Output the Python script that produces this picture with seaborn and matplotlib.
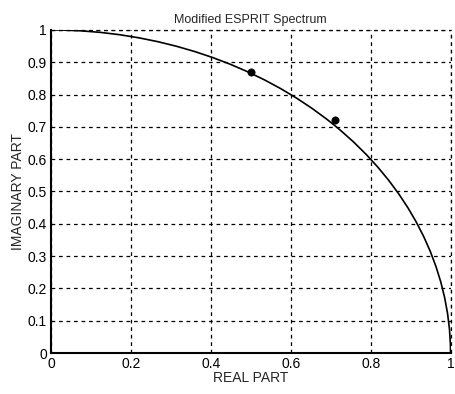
import numpy as np
import matplotlib
matplotlib.use("Agg")
import matplotlib.pyplot as plt
from matplotlib.patches import Arc
import seaborn as sns

# Estimated roots
real_part = [0.50, 0.71]
imag_part = [0.87, 0.72]

# Unit circle reference
circle_radius = 1.0

ticks = [0, 0.2, 0.4, 0.6, 0.8, 1]
yticks = [0, 0.1, 0.2, 0.3, 0.4, 0.5, 0.6, 0.7, 0.8, 0.9, 1]

sns.set_style("white")
plt.rcParams['font.family'] = ['Liberation Sans', 'DejaVu Sans']

fig = plt.figure(figsize=(4.56, 3.94), dpi=100)
ax = fig.add_axes([0.112, 0.104, 0.876, 0.82])

# quarter circle
ax.add_patch(Arc((0, 0), 2 * circle_radius, 2 * circle_radius, theta1=0, theta2=90,
                 color="black", lw=1.2))

sns.scatterplot(x=real_part, y=imag_part, ax=ax, color="black", s=28,
                edgecolor="black", zorder=5)

ax.set_xlim(0, 1)
ax.set_ylim(0, 1)
ax.set_xticks(ticks)
ax.set_xticklabels(["0", "0.2", "0.4", "0.6", "0.8", "1"])
ax.set_yticks(yticks)
ax.set_yticklabels(["0", "0.1", "0.2", "0.3", "0.4", "0.5", "0.6", "0.7", "0.8", "0.9", "1"])
ax.grid(True, color="black", linestyle=(0, (3, 3)), linewidth=0.9)
ax.set_axisbelow(True)

for side in ["top", "right"]:
    ax.spines[side].set_visible(False)
for side in ["left", "bottom"]:
    ax.spines[side].set_color("black")
    ax.spines[side].set_linewidth(1.5)

# dashed lines at x=1 and y=1 at the plot edges
ax.axhline(1, color="black", linestyle=(0, (3, 3)), linewidth=0.9, clip_on=False)
ax.axvline(1, color="black", linestyle=(0, (3, 3)), linewidth=0.9, clip_on=False)

ax.tick_params(direction="in", length=3, labelsize=10, colors="black", pad=3)
ax.set_xlabel("REAL PART", fontsize=10, labelpad=0)
ax.set_ylabel("IMAGINARY PART", fontsize=10, labelpad=2)
ax.set_title("Modified ESPRIT Spectrum", fontsize=9, pad=5)

fig.savefig("out.png", dpi=100)
